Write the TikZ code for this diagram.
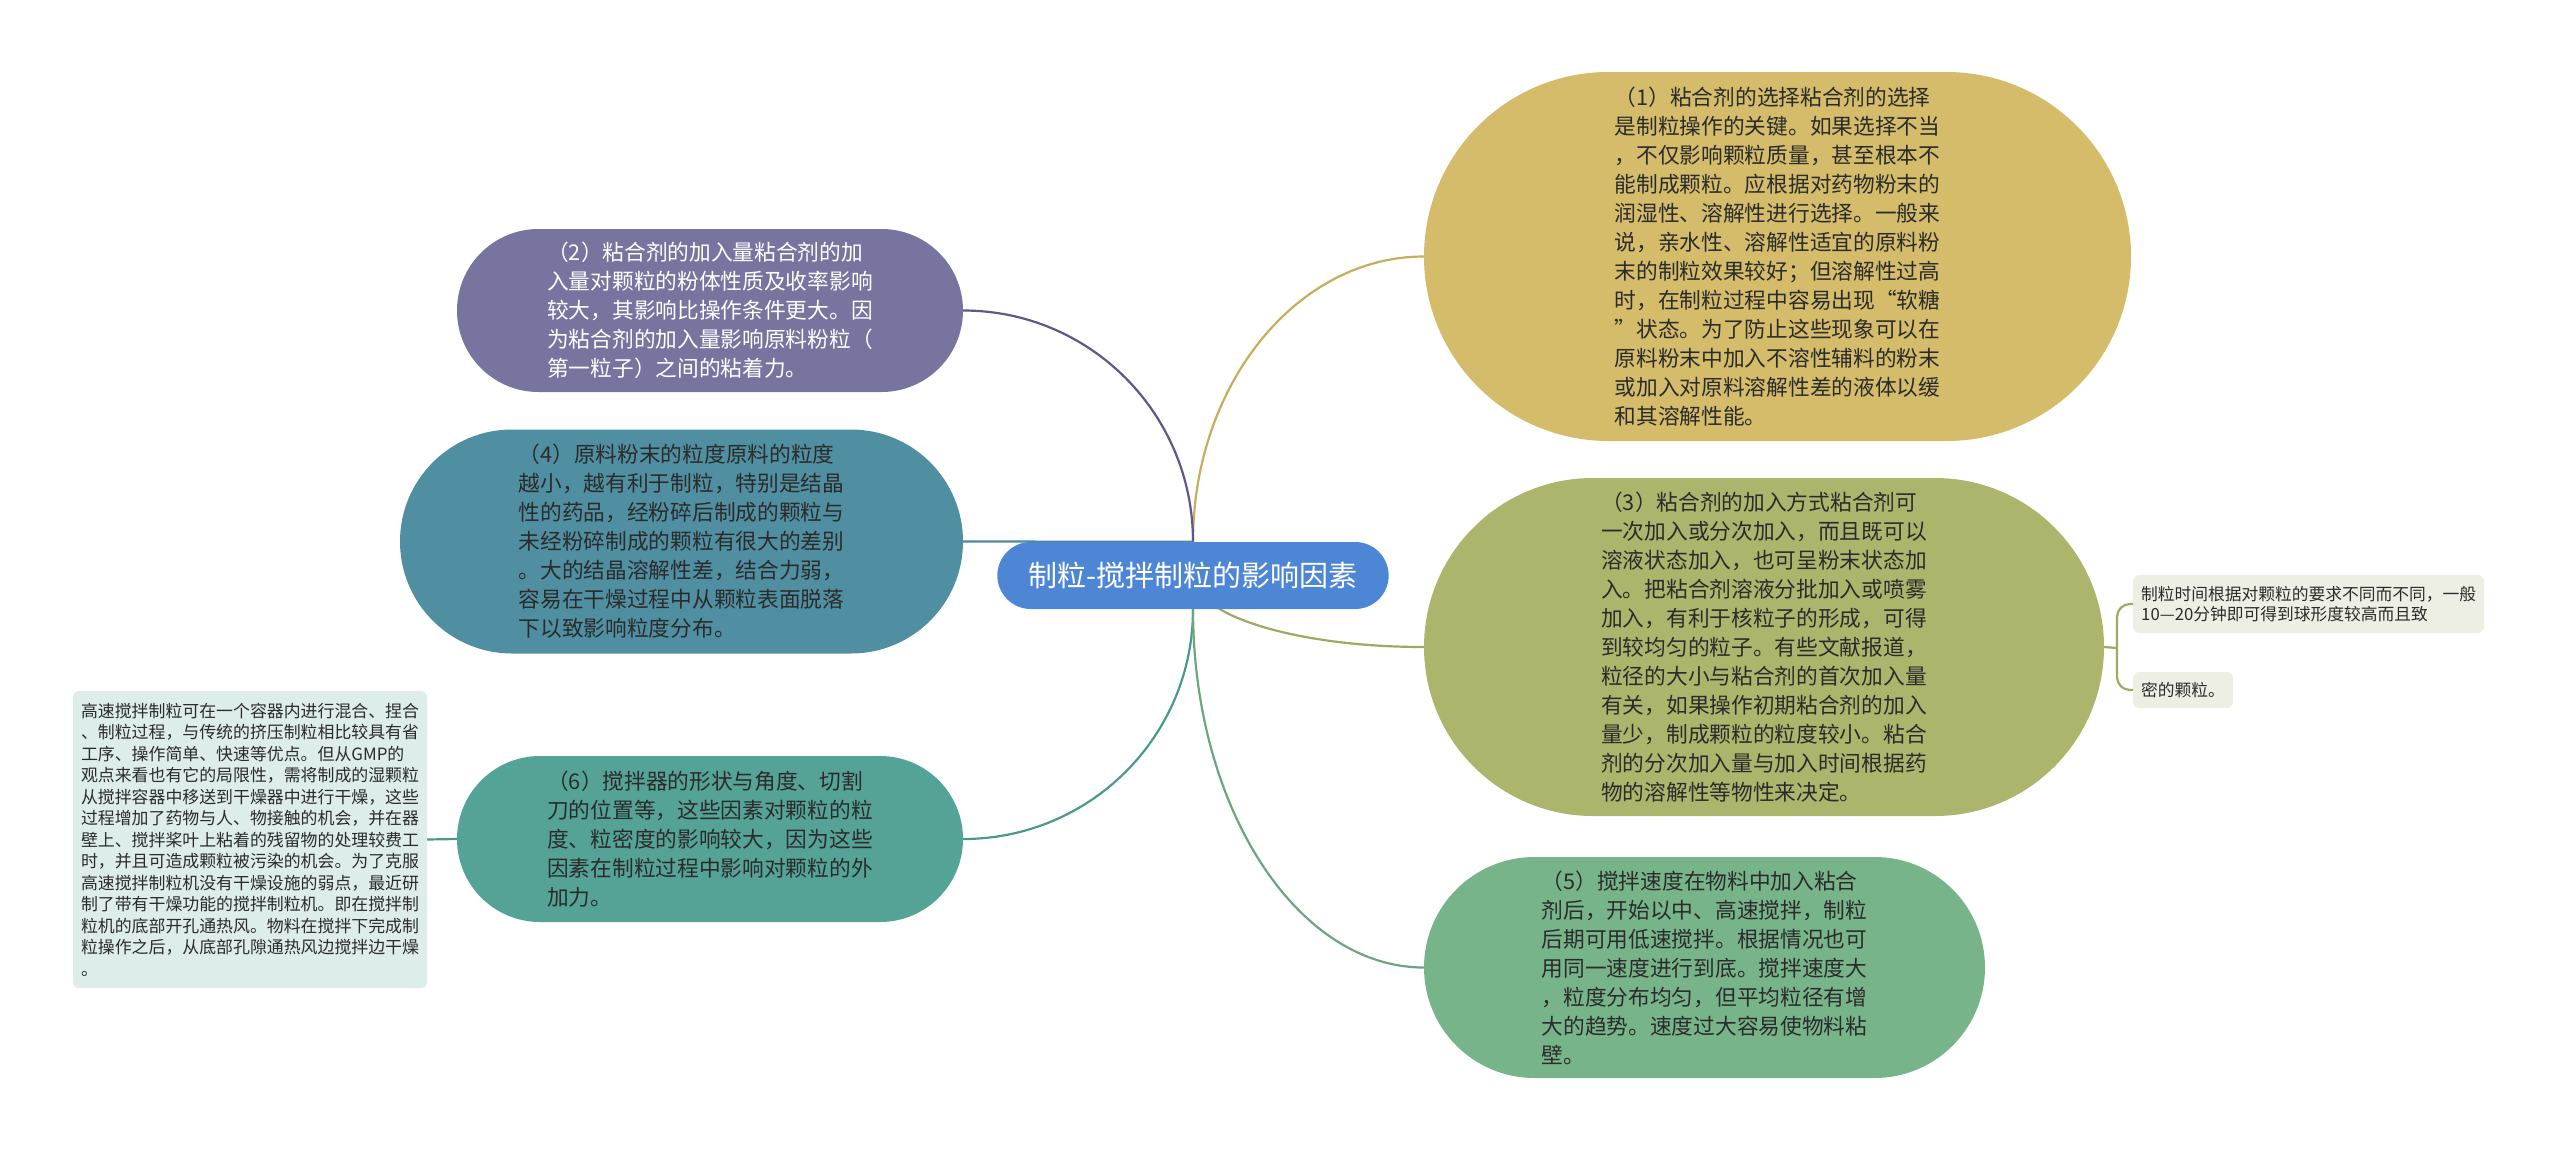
\documentclass[tikz,border=0pt]{standalone}
\usepackage{fontspec}
\setmainfont{Noto Sans CJK SC}
\usetikzlibrary{shapes.misc,backgrounds}

\definecolor{rootblue}{HTML}{4E86D6}
\definecolor{goldfill}{HTML}{D4BC6A}
\definecolor{goldline}{HTML}{C8AE5C}
\definecolor{purplefill}{HTML}{77749F}
\definecolor{purpleline}{HTML}{5C588A}
\definecolor{tealfill}{HTML}{4F8FA1}
\definecolor{tealline}{HTML}{4A8A9C}
\definecolor{seafill}{HTML}{55A396}
\definecolor{sealine}{HTML}{4A998B}
\definecolor{olivefill}{HTML}{ADB56C}
\definecolor{oliveline}{HTML}{A0A862}
\definecolor{greenfill}{HTML}{78B48A}
\definecolor{greenline}{HTML}{6AA77E}
\definecolor{noteleft}{HTML}{DDEDEA}
\definecolor{noteright}{HTML}{EEEFE4}
\definecolor{inktext}{HTML}{2B2B2B}

\tikzset{
  topic/.style={rounded rectangle, inner sep=0pt, align=left, text=inktext,
    font=\fontsize{21.7}{29}\selectfont},
  note/.style={rectangle, rounded corners=6pt, inner xsep=8pt, inner ysep=0pt,
    align=left, text=inktext, font=\fontsize{16.9}{21.5}\selectfont},
  link/.style={line width=2.2pt},
}

\begin{document}
\begin{tikzpicture}[x=1pt,y=-1pt]
    \useasboundingbox (0,0) rectangle (2560,1151);

    % Root
    \node[rounded rectangle, fill=rootblue, text=white, minimum width=398pt,
      minimum height=67pt, font=\fontsize{29}{34}\selectfont] (root) at (1193,575.5)
      {制粒-搅拌制粒的影响因素};

    % Right side
    \node[topic, fill=goldfill, minimum width=707pt, minimum height=369pt] (n1) at (1777.5,256.5)
      {（1）粘合剂的选择粘合剂的选择\\是制粒操作的关键。如果选择不当\\，不仅影响颗粒质量，甚至根本不\\能制成颗粒。应根据对药物粉末的\\润湿性、溶解性进行选择。一般来\\说，亲水性、溶解性适宜的原料粉\\末的制粒效果较好；但溶解性过高\\时，在制粒过程中容易出现“软糖\\”状态。为了防止这些现象可以在\\原料粉末中加入不溶性辅料的粉末\\或加入对原料溶解性差的液体以缓\\和其溶解性能。};
    \node[topic, fill=olivefill, minimum width=680pt, minimum height=338pt] (n3) at (1764,647)
      {（3）粘合剂的加入方式粘合剂可\\一次加入或分次加入，而且既可以\\溶液状态加入，也可呈粉末状态加\\入。把粘合剂溶液分批加入或喷雾\\加入，有利于核粒子的形成，可得\\到较均匀的粒子。有些文献报道，\\粒径的大小与粘合剂的首次加入量\\有关，如果操作初期粘合剂的加入\\量少，制成颗粒的粒度较小。粘合\\剂的分次加入量与加入时间根据药\\物的溶解性等物性来决定。};
    \node[topic, fill=greenfill, minimum width=561pt, minimum height=221pt] (n5) at (1704.5,967.5)
      {（5）搅拌速度在物料中加入粘合\\剂后，开始以中、高速搅拌，制粒\\后期可用低速搅拌。根据情况也可\\用同一速度进行到底。搅拌速度大\\，粒度分布均匀，但平均粒径有增\\大的趋势。速度过大容易使物料粘\\壁。};

    % Left side
    \node[topic, fill=purplefill, text=white, minimum width=506pt, minimum height=163pt] (n2) at (710,310.5)
      {（2）粘合剂的加入量粘合剂的加\\入量对颗粒的粉体性质及收率影响\\较大，其影响比操作条件更大。因\\为粘合剂的加入量影响原料粉粒（\\第一粒子）之间的粘着力。};
    \node[topic, fill=tealfill, minimum width=563pt, minimum height=224pt] (n4) at (681.5,541.5)
      {（4）原料粉末的粒度原料的粒度\\越小，越有利于制粒，特别是结晶\\性的药品，经粉碎后制成的颗粒与\\未经粉碎制成的颗粒有很大的差别\\。大的结晶溶解性差，结合力弱，\\容易在干燥过程中从颗粒表面脱落\\下以致影响粒度分布。};
    \node[topic, fill=seafill, minimum width=506pt, minimum height=166pt] (n6) at (710,839)
      {（6）搅拌器的形状与角度、切割\\刀的位置等，这些因素对颗粒的粒\\度、粒密度的影响较大，因为这些\\因素在制粒过程中影响对颗粒的外\\加力。};

    % Notes
    \node[note, fill=noteleft, minimum height=297pt] (gmp) at (250,839.5)
      {高速搅拌制粒可在一个容器内进行混合、捏合\\、制粒过程，与传统的挤压制粒相比较具有省\\工序、操作简单、快速等优点。但从GMP的\\观点来看也有它的局限性，需将制成的湿颗粒\\从搅拌容器中移送到干燥器中进行干燥，这些\\过程增加了药物与人、物接触的机会，并在器\\壁上、搅拌桨叶上粘着的残留物的处理较费工\\时，并且可造成颗粒被污染的机会。为了克服\\高速搅拌制粒机没有干燥设施的弱点，最近研\\制了带有干燥功能的搅拌制粒机。即在搅拌制\\粒机的底部开孔通热风。物料在搅拌下完成制\\粒操作之后，从底部孔隙通热风边搅拌边干燥\\。};
    \node[note, fill=noteright, minimum height=58pt, font=\fontsize{16.75}{20}\selectfont, anchor=west] (time) at (2133,604)
      {制粒时间根据对颗粒的要求不同而不同，一般\\10—20分钟即可得到球形度较高而且致};
    \node[note, fill=noteright, minimum height=36pt, font=\fontsize{16.75}{20}\selectfont, anchor=west] (dense) at (2133,690)
      {密的颗粒。};

    % Links
    \begin{scope}[on background layer]
        \draw[link, goldline] (root.north) .. controls +(0,-157) and +(-127,0) .. (n1.west);
        \draw[link, purpleline] (root.north) .. controls +(0,-128) and +(127,0) .. (n2.east);
        \draw[link, tealline] (root.north) -- (n4.east);
        \draw[link, oliveline] (root.center) .. controls +(0,40) and +(-127,0) .. (n3.west);
        \draw[link, sealine] (root.south) .. controls +(0,127) and +(127,0) .. (n6.east);
        \draw[link, greenline] (root.south) .. controls +(0,198) and +(-127,0) .. (n5.west);
    \end{scope}
    \draw[link, sealine] (n6.west) -- (gmp.east);

    % Bracket
    \coordinate (brk) at (2117,648);
    \draw[link, oliveline] (n3.east) -- (brk);
    \draw[link, oliveline, rounded corners=13pt] (time.west) -| (brk) |- (dense.west);
\end{tikzpicture}
\end{document}
